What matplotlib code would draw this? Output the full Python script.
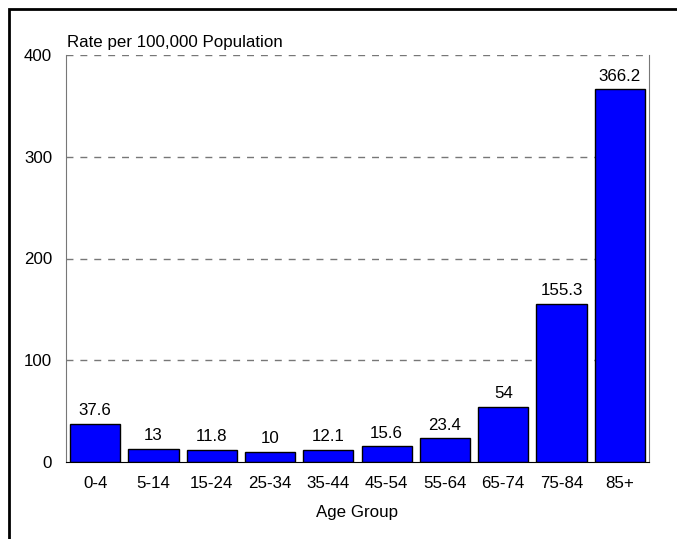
import matplotlib
matplotlib.use("Agg")
import matplotlib.pyplot as plt
from matplotlib.patches import Rectangle

categories = ["0-4", "5-14", "15-24", "25-34", "35-44", "45-54", "55-64", "65-74", "75-84", "85+"]
values = [37.6, 13, 11.8, 10, 12.1, 15.6, 23.4, 54, 155.3, 366.2]
labels = ["37.6", "13", "11.8", "10", "12.1", "15.6", "23.4", "54", "155.3", "366.2"]
yticks = [0, 100, 200, 300, 400]

plt.rcParams['font.family'] = ['Liberation Sans', 'DejaVu Sans']
FS = 12.2

W, H = 677, 539
fig = plt.figure(figsize=(W / 100, H / 100), dpi=100)
ax = fig.add_axes([66 / W, 1 - 462 / H, (649 - 66) / W, (462 - 55) / H])

x = list(range(len(categories)))
bars = ax.bar(x, values, width=0.86, color="#0000FF", edgecolor="black", linewidth=1, zorder=3)
for xi, v, lab in zip(x, values, labels):
    ax.annotate(lab, (xi, v), xytext=(0, 4), textcoords="offset points",
                ha="center", va="bottom", fontsize=FS)

ax.set_xlim(-0.5, len(categories) - 0.5)
ax.set_ylim(0, 400)
ax.set_yticks(yticks)
ax.set_yticklabels([str(t) for t in yticks], fontsize=FS)
ax.set_xticks(x)
ax.set_xticklabels(categories, fontsize=FS)
ax.tick_params(length=0)
ax.tick_params(axis='x', pad=10)
ax.tick_params(axis='y', pad=10)
for t in yticks[1:]:
    ax.axhline(t, color="#777777", linestyle=(0, (5, 5)), linewidth=1, zorder=1)
ax.spines['top'].set_visible(False)
ax.spines['left'].set_color("#777777")
ax.spines['right'].set_color("#777777")
ax.spines['bottom'].set_color("black")
ax.spines['bottom'].set_zorder(4)

fig.text(67 / W, 1 - 43 / H, "Rate per 100,000 Population", ha="left", va="center", fontsize=FS)
fig.text(357 / W, 1 - 512 / H, "Age Group", ha="center", va="center", fontsize=FS)

fig.patches.append(Rectangle((8.5 / W, -0.05), 1.2, 1.05 - 8.5 / H, transform=fig.transFigure,
                             fill=False, edgecolor="black", linewidth=2))

fig.savefig("out.png", dpi=100)
